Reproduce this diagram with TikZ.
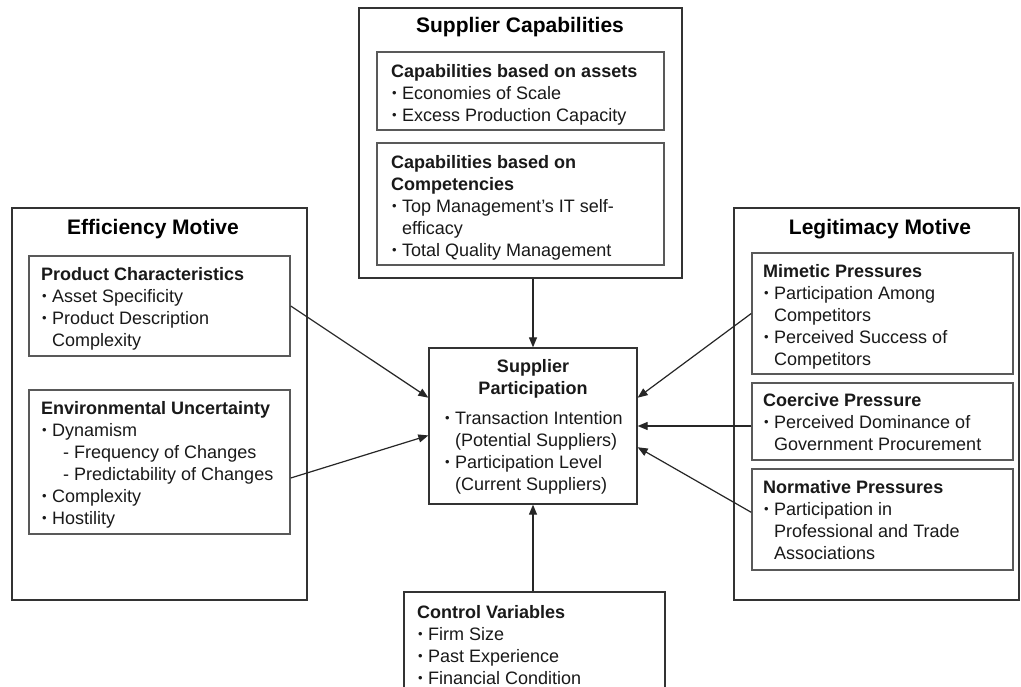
\documentclass[tikz,border=0pt]{standalone}
\usepackage{fontspec}
\setmainfont{Liberation Sans}
\usetikzlibrary{arrows.meta,fit,calc}
\newcommand\bul{\makebox[11pt][l]{\hspace*{1pt}\raisebox{1.5pt}{\fontsize{13}{13}\selectfont\textbullet}}}
\newcommand\hang{\hspace*{11pt}}
\newcommand\fl{\rule{0pt}{14pt}}
\begin{document}
\begin{tikzpicture}[x=1pt,y=-1pt,
  outer/.style={draw=black!80, line width=1.3pt, inner sep=0pt},
  inbox/.style={draw=black!65, line width=1.5pt, inner sep=0pt},
  body/.style={anchor=north west, inner sep=0pt, align=left, font=\fontsize{18}{22}\selectfont, text=black!90},
  ttl/.style={anchor=base, inner sep=0pt, font=\fontsize{21}{25}\selectfont\bfseries},
  arr/.style={line width=1.2pt, draw=black!85, -{Triangle[length=10pt,width=8pt]}}]
\useasboundingbox (0,0) rectangle (1021,687);
\fill[white] (0,0) rectangle (1021,687);
\clip (0,0) rectangle (1021,687);

% Efficiency Motive
\node[outer, fit={(12,208) (307,600)}] (eff) {};
\node[ttl] (effT) at (153,235) {Efficiency Motive};
\node[inbox, fit={(29,256) (290,356)}] (pc) {};
\node[body] (pcT) at (41,266) {\fl\textbf{Product Characteristics}\\ \bul Asset Specificity\\ \bul Product Description\\ \hang Complexity};
\node[inbox, fit={(29,390) (290,534)}] (eu) {};
\node[body] (euT) at (41,400) {\fl\textbf{Environmental Uncertainty}\\ \bul Dynamism\\ \hspace*{22pt}- Frequency of Changes\\ \hspace*{22pt}- Predictability of Changes\\ \bul Complexity\\ \bul Hostility};

% Supplier Capabilities
\node[outer, fit={(359,8) (682,278)}] (sc) {};
\node[ttl] (scT) at (520,33) {Supplier Capabilities};
\node[inbox, fit={(377,52) (664,130)}] (ca) {};
\node[body] (caT) at (391,63) {\fl\textbf{Capabilities based on assets}\\ \bul Economies of Scale\\ \bul Excess Production Capacity};
\node[inbox, fit={(377,143) (664,265)}] (cc) {};
\node[body] (ccT) at (391,154) {\fl\textbf{Capabilities based on}\\ \textbf{Competencies}\\ \bul Top Management's IT self-\\ \hang efficacy\\ \bul Total Quality Management};

% Legitimacy Motive
\node[outer, fit={(734,208) (1019,600)}] (leg) {};
\node[ttl] (legT) at (880,235) {Legitimacy Motive};
\node[inbox, fit={(752,253) (1013,374)}] (mp) {};
\node[body] (mpT) at (763,263) {\fl\textbf{Mimetic Pressures}\\ \bul Participation Among\\ \hang Competitors\\ \bul Perceived Success of\\ \hang Competitors};
\node[inbox, fit={(752,383) (1013,460)}] (cp) {};
\node[body] (cpT) at (763,392) {\fl\textbf{Coercive Pressure}\\ \bul Perceived Dominance of\\ \hang Government Procurement};
\node[inbox, fit={(752,469) (1013,570)}] (np) {};
\node[body] (npT) at (763,479) {\fl\textbf{Normative Pressures}\\ \bul Participation in\\ \hang Professional and Trade\\ \hang Associations};

% Supplier Participation
\node[outer, fit={(429,348) (637,504)}] (sp) {};
\node[body, anchor=north, align=center] (spT) at (533,358) {\fl\textbf{Supplier}\\ \textbf{Participation}};
\node[body] (spI) at (444,410) {\fl\bul Transaction Intention\\ \hang(Potential Suppliers)\\ \bul Participation Level\\ \hang(Current Suppliers)};

% Control Variables
\node[outer, fit={(404,592) (665,720)}] (cv) {};
\node[body] (cvT) at (417,604) {\fl\textbf{Control Variables}\\ \bul Firm Size\\ \bul Past Experience\\ \bul Financial Condition};

% connectors
\draw[arr] (sp.north |- sc.south) -- (sp.north);
\draw[arr] (sp.south |- cv.north) -- (sp.south);
\draw[arr] (pc.east) -- ($(sp.north west)!0.32!(sp.south west)$);
\draw[arr] ($(eu.north east)!0.61!(eu.south east)$) -- ($(sp.north west)!0.56!(sp.south west)$);
\draw[arr] (mp.west) -- ($(sp.north east)!0.32!(sp.south east)$);
\draw[arr] (sp.east -| cp.west) -- (sp.east);
\draw[arr] ($(np.north west)!0.43!(np.south west)$) -- ($(sp.north east)!0.635!(sp.south east)$);
\end{tikzpicture}
\end{document}
